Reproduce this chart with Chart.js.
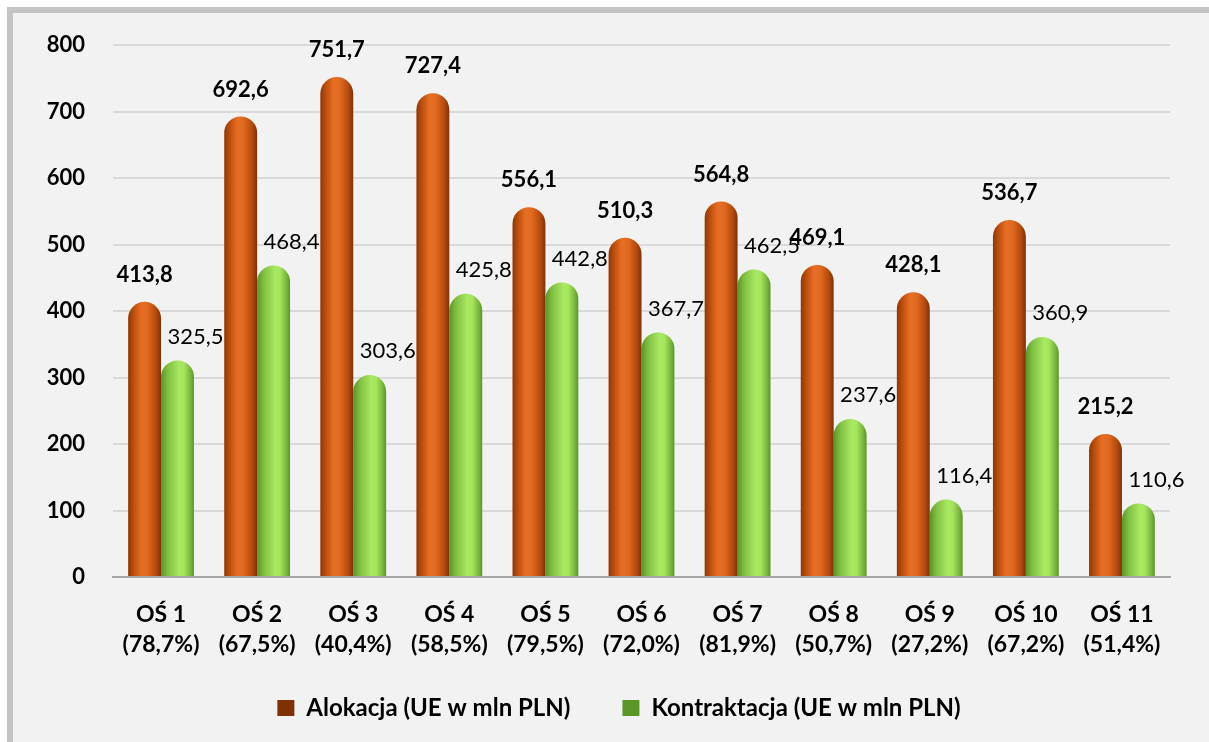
<!DOCTYPE html>
<html>
<head>
<meta charset="utf-8">
<script src="https://cdn.jsdelivr.net/npm/chart.js@4/dist/chart.umd.min.js"></script>
<style>
  html, body { margin: 0; padding: 0; background: #fff; width: 1209px; height: 742px; overflow: hidden; }
  #frame { position: absolute; left: 7px; top: 7px; width: 1260px; height: 800px; border: 6px solid #c4c4c4; background: #f2f2f2; }
  #chart { position: absolute; left: 0; top: 0; }
</style>
</head>
<body>
<div id="frame"></div>
<canvas id="chart" width="1209" height="760"></canvas>
<script>
const categories = ["OŚ 1", "OŚ 2", "OŚ 3", "OŚ 4", "OŚ 5", "OŚ 6", "OŚ 7", "OŚ 8", "OŚ 9", "OŚ 10", "OŚ 11"];
const shares = ["78,7%", "67,5%", "40,4%", "58,5%", "79,5%", "72,0%", "81,9%", "50,7%", "27,2%", "67,2%", "51,4%"];
const allocation = [413.8, 692.6, 751.7, 727.4, 556.1, 510.3, 564.8, 469.1, 428.1, 536.7, 215.2];
const contracting = [325.5, 468.4, 303.6, 425.8, 442.8, 367.7, 462.5, 237.6, 116.4, 360.9, 110.6];
const yMax = 800;
const yStep = 100;

const FONT = "Lato";
const groupShare = 0.685;

// horizontal shading so the bars look like cylinders
function cylinder(stops, solid, side) {
  return function (ctx) {
    const chart = ctx.chart;
    const xs = chart.scales.x;
    if (ctx.type !== "data" || !xs || !chart.chartArea) return solid;
    const w = xs.width / categories.length * groupShare / 2;
    const c = xs.getPixelForValue(ctx.dataIndex) + side * w / 2;
    const g = chart.ctx.createLinearGradient(c - w / 2, 0, c + w / 2, 0);
    stops.forEach(s => g.addColorStop(s[0], s[1]));
    return g;
  };
}

const orangeStops = [[0, "#8c3806"], [0.15, "#b84c0c"], [0.4, "#e86e24"], [0.6, "#e06820"], [0.85, "#b44a0c"], [1, "#7e3204"]];
const greenStops = [[0, "#5a9428"], [0.2, "#80bf42"], [0.55, "#a8e862"], [0.7, "#a4e45e"], [0.9, "#78b43a"], [1, "#5c9628"]];

const fmt = v => v.toFixed(1).replace(".", ",");

const valueLabels = {
  id: "valueLabels",
  afterDatasetsDraw(chart) {
    const c = chart.ctx;
    chart.data.datasets.forEach((ds, i) => {
      chart.getDatasetMeta(i).data.forEach((bar, j) => {
        c.save();
        c.font = (i === 0 ? "bold " : "") + "22px " + FONT;
        c.fillStyle = "#000";
        c.textAlign = "center";
        c.textBaseline = "middle";
        if (i === 0) c.fillText(fmt(ds.data[j]), bar.x, bar.y - 27);
        else c.fillText(fmt(ds.data[j]), bar.x + 18, bar.y - 24);
        c.restore();
      });
    });
  }
};

// move the legend a little right and up, closer to the axis labels
const legendNudge = {
  id: "legendNudge",
  afterLayout(chart) {
    const lg = chart.legend;
    lg.left += 24; lg.right += 24;
    lg.top -= 18; lg.bottom -= 18;
  }
};

new Chart(document.getElementById("chart").getContext("2d"), {
  type: "bar",
  data: {
    labels: categories.map((c, i) => [c, "(" + shares[i] + ")"]),
    datasets: [
      {
        label: "Alokacja (UE w mln PLN)",
        data: allocation,
        backgroundColor: cylinder(orangeStops, "#c8581a", -1),
        borderRadius: { topLeft: 17, topRight: 17, bottomLeft: 0, bottomRight: 0 },
        borderSkipped: false
      },
      {
        label: "Kontraktacja (UE w mln PLN)",
        data: contracting,
        backgroundColor: cylinder(greenStops, "#7cbc3c", 1),
        borderRadius: { topLeft: 17, topRight: 17, bottomLeft: 0, bottomRight: 0 },
        borderSkipped: false
      }
    ]
  },
  options: {
    responsive: false,
    animation: false,
    events: [],
    layout: { padding: { left: 20, right: 39, top: 45, bottom: 12 } },
    datasets: { bar: { barPercentage: 1, categoryPercentage: groupShare } },
    scales: {
      x: {
        grid: { display: false, drawTicks: false },
        border: { color: "#a6a6a6", width: 2 },
        ticks: { color: "#000", padding: 22, maxRotation: 0, font: { family: FONT, size: 23, weight: "bold", lineHeight: 1.32 } },
        afterFit(scale) { scale.height = 85; }
      },
      y: {
        min: 0,
        max: yMax,
        ticks: { stepSize: yStep, color: "#000", padding: 28, font: { family: FONT, size: 22, weight: "bold" } },
        grid: { color: "#d9d9d9", lineWidth: 2, drawTicks: false },
        border: { display: false },
        afterFit(scale) { scale.width = 93; }
      }
    },
    plugins: {
      tooltip: { enabled: false },
      legend: {
        position: "bottom",
        labels: {
          color: "#000",
          boxWidth: 17,
          boxHeight: 16,
          padding: 52,
          font: { family: FONT, size: 24, weight: "bold" }
        }
      }
    }
  },
  plugins: [valueLabels, legendNudge]
});
</script>
</body>
</html>
